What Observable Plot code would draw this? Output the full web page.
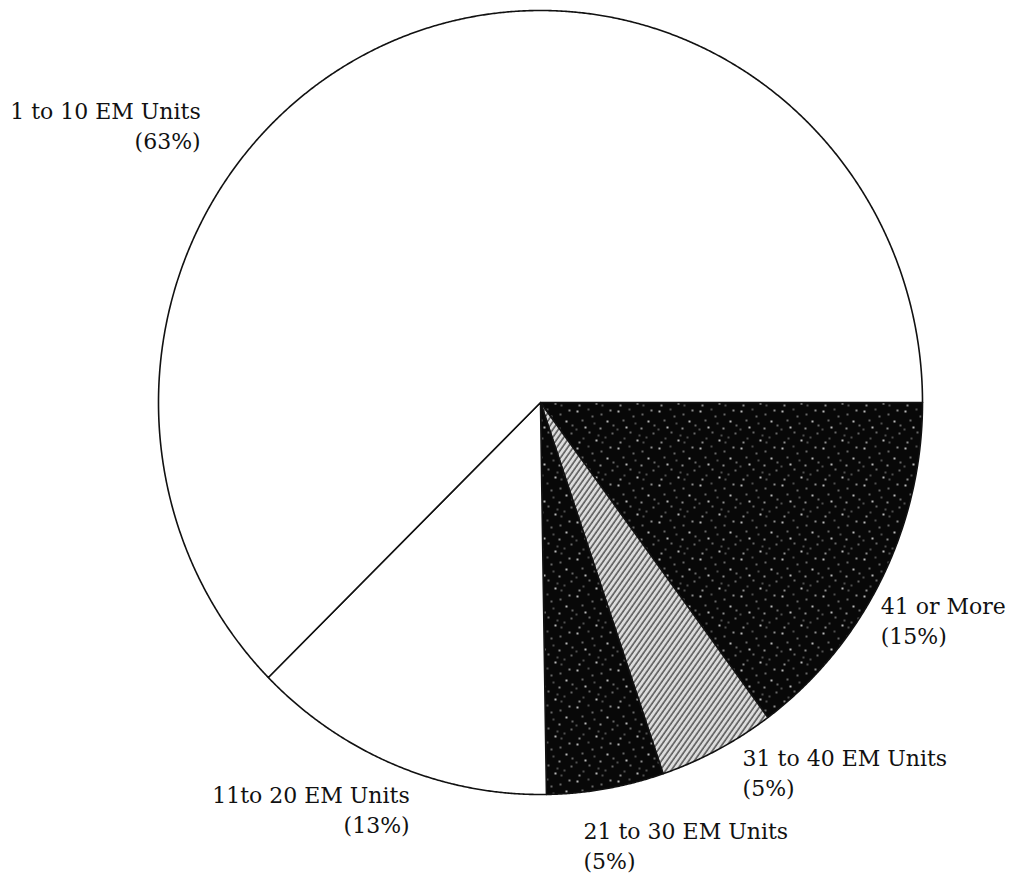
<!DOCTYPE html>
<html><head><meta charset="utf-8">
<script src="https://cdn.jsdelivr.net/npm/d3@7"></script>
<script src="https://cdn.jsdelivr.net/npm/@observablehq/plot@0.6"></script>
<style>body{margin:0;background:#fff}</style>
</head><body><div id="chart"></div>
<script>
// ---- data ----
const categories = ["41 or More", "31 to 40 EM Units", "21 to 30 EM Units", "11to 20 EM Units", "1 to 10 EM Units"];
const percents = [15, 5, 5, 13, 63];
const percentLabels = ["(15%)", "(5%)", "(5%)", "(13%)", "(63%)"];

// ---- layout / style ----
const W = 1010, H = 888;
const cx = 540, cy = 402, RX = 382, RY = 392;
const sliceFill = ["url(#speckle)", "url(#hatch)", "url(#speckle)", "#ffffff", "#ffffff"];
const labelLayout = [
  {dx: -1, dy: 14, anchor: "start"},
  {dx: 25, dy: -5, anchor: "start"},
  {dx: -22, dy: 29, anchor: "start"},
  {dx: 14, dy: 17, anchor: "end"},
  {dx: -195, dy: 58, anchor: "end"}
];

const arcs = d3.pie().sort(null).value(d => d)
  .startAngle(Math.PI / 2).endAngle(Math.PI / 2 + 2 * Math.PI)(percents);

const polyPts = [];
arcs.forEach((a, i) => {
  polyPts.push({k: i, x: 0, y: 0});
  const n = Math.max(8, Math.ceil((a.endAngle - a.startAngle) / 0.004));
  for (let j = 0; j <= n; j++) {
    const t = a.startAngle + (a.endAngle - a.startAngle) * j / n;
    polyPts.push({k: i, x: Math.sin(t), y: Math.cos(t)});
  }
  polyPts.push({k: i, x: 0, y: 0});
});

const labels = arcs.map((a, i) => {
  const m = (a.startAngle + a.endAngle) / 2;
  return {i, x: Math.sin(m), y: Math.cos(m), text: categories[i] + "\n" + percentLabels[i]};
});

const defsMark = () => {
  const g = d3.create("svg:g");
  const defs = g.append("defs");
  const sp = defs.append("pattern").attr("id", "speckle").attr("patternUnits", "userSpaceOnUse")
    .attr("width", 41).attr("height", 37);
  sp.append("rect").attr("width", 41).attr("height", 37).attr("fill", "#080808");
  const dots = [[3,4],[14,2],[27,7],[36,3],[8,13],[20,16],[33,14],[2,22],[15,25],[26,21],[38,26],[9,31],[22,33],[31,30],[18,9],[5,35],[39,18],[28,35],[11,20],[24,28]];
  dots.forEach(([x, y], j) => sp.append("circle").attr("cx", x).attr("cy", y)
    .attr("r", j % 3 === 0 ? 1.1 : 0.8).attr("fill", j % 2 ? "#aaa" : "#e0e0e0"));
  const h = defs.append("pattern").attr("id", "hatch").attr("patternUnits", "userSpaceOnUse")
    .attr("width", 4.5).attr("height", 4.5).attr("patternTransform", "rotate(-55)");
  h.append("rect").attr("width", 4.5).attr("height", 4.5).attr("fill", "#dcdcdc");
  h.append("line").attr("x1", 0).attr("y1", 1).attr("x2", 4.5).attr("y2", 1)
    .attr("stroke", "#5a5a5a").attr("stroke-width", 1.6);
  return g.node();
};

const chart = Plot.plot({
  width: W, height: H,
  margin: 0,
  style: {background: "#fff", overflow: "visible"},
  x: {domain: [-cx / RX, (W - cx) / RX], axis: null},
  y: {domain: [-(H - cy) / RY, cy / RY], axis: null},
  color: {type: "identity"},
  marks: [
    defsMark,
    Plot.line(polyPts, {x: "x", y: "y", z: "k", fill: d => sliceFill[d.k], stroke: "#111", strokeWidth: 1.6, curve: "linear"}),
    ...labels.map(l => Plot.text([l], {
      x: "x", y: "y", text: "text",
      dx: labelLayout[l.i].dx, dy: labelLayout[l.i].dy,
      textAnchor: labelLayout[l.i].anchor, lineAnchor: "top", lineHeight: 1.36,
      fontFamily: "DejaVu Serif", fontSize: 22, fill: "#111"
    }))
  ]
});
document.getElementById("chart").append(chart);
</script>
</body></html>
